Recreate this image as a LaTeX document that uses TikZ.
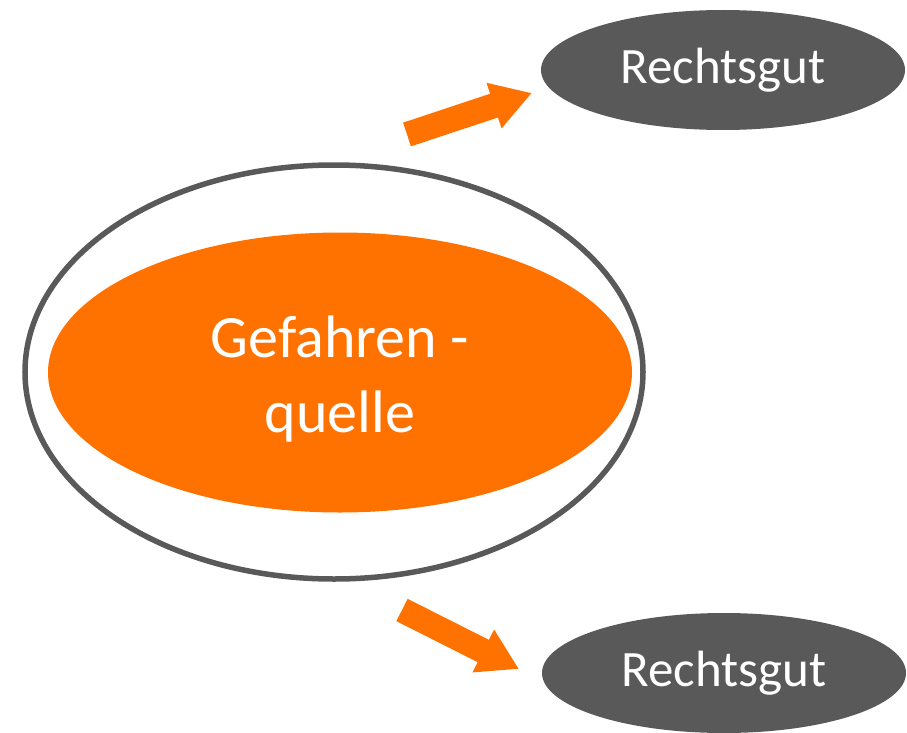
\documentclass[tikz,border=0pt]{standalone}
\usepackage{fontspec}
\setmainfont{Carlito}
\usetikzlibrary{shapes.geometric,arrows.meta}
\definecolor{hazard}{RGB}{255,114,0}
\definecolor{slate}{RGB}{89,89,89}
\tikzset{
  goodbox/.style={ellipse, fill=slate, text=white, inner sep=0pt,
    minimum width=364pt, minimum height=120pt,
    font=\fontsize{51}{61}\selectfont},
  blockarrow/.style={draw=hazard, line width=25pt, line cap=butt,
    -{Triangle[width=45pt,length=40pt]}},
}
\begin{document}
\begin{tikzpicture}[x=1pt,y=-1pt]
  \useasboundingbox (0,0) rectangle (907,733);
  % outer ring around the source of danger
  \node[ellipse, draw=slate, line width=5.5pt, inner sep=0pt,
        minimum width=618pt, minimum height=414pt] (ring) at (334,372) {};
  % source of danger
  \node[ellipse, fill=hazard, inner sep=0pt,
        minimum width=584pt, minimum height=280pt] (src) at (340,372.5) {};
  \node[text=white, align=center, inner sep=0pt,
        font=\fontsize{60}{75}\selectfont] (srclabel) at (340,379)
        {Gefahren -\\quelle};
  % protected legal goods
  \node[goodbox] (goodA) at (723,70) {Rechtsgut};
  \node[goodbox] (goodB) at (724,673) {Rechtsgut};
  % arrows pointing at the goods
  \coordinate (tailA) at (407,134.5);
  \coordinate (tipA) at (532,93);
  \coordinate (tailB) at (402,610);
  \coordinate (tipB) at (519,669);
  \draw[blockarrow] (tailA) -- (tipA);
  \draw[blockarrow] (tailB) -- (tipB);
\end{tikzpicture}
\end{document}
